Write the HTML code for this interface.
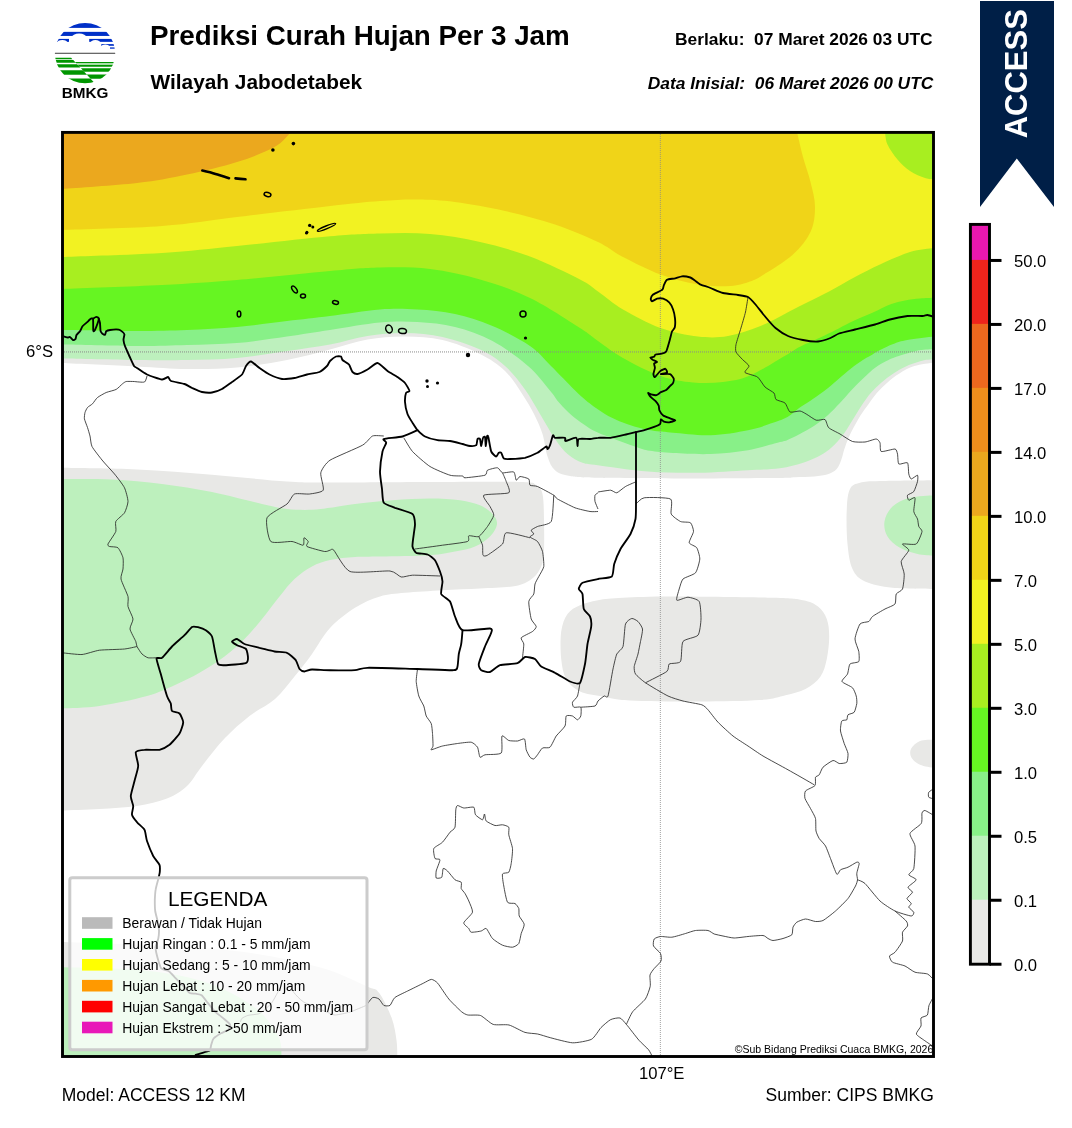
<!DOCTYPE html>
<html><head><meta charset="utf-8"><title>Prediksi Curah Hujan Per 3 Jam</title>
<style>
html,body{margin:0;padding:0;background:#fff;}
body{width:1072px;height:1128px;position:relative;overflow:hidden;font-family:"Liberation Sans",sans-serif;}
svg text{font-family:"Liberation Sans",sans-serif;}
</style></head><body>
<svg width="1072" height="1128" viewBox="0 0 1072 1128" style="position:absolute;left:0;top:0;will-change:transform">
<defs><clipPath id="mc"><rect x="62.5" y="132.4" width="871.0" height="924.1"/></clipPath></defs>
<rect x="0" y="0" width="1072" height="1128" fill="#fff"/>
<g clip-path="url(#mc)">
<path d="M62.0,363.0C74.5,363.6 116.2,365.5 137.0,366.5C157.8,367.5 170.3,368.8 187.0,369.0C203.7,369.2 220.3,369.0 237.0,367.5C253.7,366.0 271.5,363.0 287.0,360.0C302.5,357.0 316.6,352.9 330.0,349.5C343.4,346.1 355.0,341.7 367.5,339.5C380.0,337.3 392.5,336.4 405.0,336.5C417.5,336.6 430.0,337.1 442.5,340.0C455.0,342.9 469.6,348.8 480.0,354.0C490.4,359.2 497.9,364.2 505.0,371.0C512.1,377.8 517.7,387.3 522.5,394.5C527.3,401.7 530.7,407.4 534.0,414.0C537.3,420.6 540.2,426.9 542.5,434.0C544.8,441.1 545.4,450.5 547.5,456.5C549.6,462.5 551.2,467.0 555.0,470.2C558.8,473.5 562.8,474.8 570.0,476.0C577.2,477.2 576.7,477.3 598.0,477.8C619.3,478.2 667.7,478.5 698.0,478.5C728.3,478.5 763.9,478.1 780.0,477.9C796.1,477.7 789.2,477.4 794.9,477.2C800.6,476.9 808.8,476.9 814.3,476.4C819.8,475.9 824.1,475.4 827.8,474.2C831.5,473.0 834.5,471.4 836.7,469.0C838.9,466.6 840.0,463.2 841.2,460.0C842.5,456.8 843.0,453.3 844.2,449.6C845.5,445.9 847.0,441.6 848.7,437.6C850.4,433.6 852.6,429.4 854.6,425.7C856.6,422.0 858.4,418.7 860.6,415.2C862.9,411.7 865.4,408.5 868.1,404.8C870.8,401.1 873.8,396.5 877.0,392.8C880.2,389.1 883.8,385.6 887.5,382.4C891.2,379.2 894.9,376.1 899.4,373.4C903.9,370.7 908.5,367.8 914.3,366.0C920.1,364.2 930.7,363.0 934.0,362.4L933.5,132.4L62.5,132.4Z" fill="#e8e8e6"/>
<path d="M62.0,358.5C74.5,358.8 116.2,359.8 137.0,360.0C157.8,360.2 170.3,360.3 187.0,360.0C203.7,359.7 220.3,359.5 237.0,358.0C253.7,356.5 271.5,353.2 287.0,351.0C302.5,348.8 316.6,347.0 330.0,344.5C343.4,342.0 355.0,337.9 367.5,336.0C380.0,334.1 392.5,332.8 405.0,333.0C417.5,333.2 430.0,334.2 442.5,337.0C455.0,339.8 469.6,344.7 480.0,349.5C490.4,354.3 497.5,359.3 505.0,366.0C512.5,372.7 519.2,381.5 525.0,389.5C530.8,397.5 535.0,405.8 540.0,414.0C545.0,422.2 550.4,432.3 555.0,439.0C559.6,445.7 562.9,450.0 567.5,454.0C572.1,458.0 577.4,460.9 582.5,462.8C587.6,464.6 587.1,463.8 598.0,465.2C608.9,466.7 631.3,470.2 648.0,471.5C664.7,472.8 681.3,473.0 698.0,472.8C714.7,472.5 734.3,471.0 748.0,470.2C761.7,469.5 770.9,469.4 780.0,468.2C789.1,467.0 796.2,464.9 802.4,463.0C808.6,461.1 812.8,459.2 817.3,457.0C821.8,454.8 825.6,452.6 829.3,449.6C833.0,446.6 836.7,442.6 839.7,439.1C842.7,435.6 844.7,432.4 847.2,428.7C849.7,425.0 852.1,420.7 854.6,416.7C857.1,412.7 859.4,408.8 862.1,404.8C864.8,400.8 867.8,396.5 871.0,392.8C874.2,389.1 877.8,385.6 881.5,382.4C885.2,379.2 889.2,376.1 893.4,373.4C897.6,370.7 901.8,368.2 906.9,366.0C912.0,363.8 919.5,361.4 924.0,360.3C928.5,359.2 932.3,359.6 934.0,359.5L933.5,132.4L62.5,132.4Z" fill="#bdf0bd"/>
<path d="M62.0,344.5C74.5,344.8 116.2,345.9 137.0,346.0C157.8,346.1 170.3,345.5 187.0,345.0C203.7,344.5 220.3,344.4 237.0,343.0C253.7,341.6 271.5,338.7 287.0,336.5C302.5,334.3 314.5,332.3 330.0,330.0C345.5,327.7 365.4,323.8 380.0,322.5C394.6,321.2 405.0,321.2 417.5,322.0C430.0,322.8 442.5,323.8 455.0,327.0C467.5,330.2 480.3,334.5 492.5,341.0C504.7,347.5 518.5,357.9 528.0,366.0C537.5,374.1 544.2,383.7 549.5,389.9C554.8,396.1 556.0,399.1 559.7,403.3C563.4,407.5 567.6,411.7 571.6,415.2C575.6,418.7 579.6,421.5 583.6,424.2C587.6,426.9 591.0,429.4 595.5,431.6C600.0,433.8 603.7,435.1 610.4,437.6C617.1,440.1 628.9,444.6 635.5,446.8C642.1,449.0 643.8,449.8 650.0,450.8C656.2,451.8 662.9,452.5 673.0,453.0C683.1,453.5 698.0,454.5 710.5,454.0C723.0,453.5 736.4,452.2 748.0,450.2C759.6,448.3 773.4,443.8 780.0,442.1C786.6,440.4 784.3,441.2 787.5,439.9C790.7,438.6 794.9,436.6 799.4,434.2C803.9,431.8 809.6,428.9 814.3,425.7C819.0,422.5 823.6,418.9 827.8,415.2C832.0,411.5 835.7,407.5 839.7,403.3C843.7,399.1 847.6,394.1 851.6,389.9C855.6,385.7 859.6,381.6 863.6,377.9C867.6,374.2 871.4,370.5 875.5,367.5C879.6,364.5 884.6,361.9 888.5,360.0C892.4,358.1 893.7,357.6 898.8,356.0C903.9,354.4 913.4,351.4 919.3,350.3C925.2,349.2 931.5,349.5 934.0,349.3L933.5,132.4L62.5,132.4Z" fill="#88f088"/>
<path d="M62.0,330.0C74.5,330.2 116.2,331.0 137.0,331.0C157.8,331.0 170.3,330.7 187.0,330.0C203.7,329.3 220.3,328.5 237.0,327.0C253.7,325.5 271.5,322.8 287.0,321.0C302.5,319.2 314.5,317.9 330.0,316.0C345.5,314.1 365.4,310.6 380.0,309.5C394.6,308.4 405.0,308.8 417.5,309.5C430.0,310.2 442.5,311.2 455.0,314.0C467.5,316.8 480.0,320.7 492.5,326.0C505.0,331.3 520.2,339.3 530.0,346.0C539.8,352.7 543.6,358.7 551.0,366.0C558.4,373.3 568.2,383.7 574.6,389.9C581.0,396.1 584.6,399.3 589.6,403.3C594.6,407.3 599.5,410.7 604.5,413.7C609.5,416.7 614.4,419.1 619.4,421.2C624.4,423.3 629.3,424.9 634.3,426.4C639.3,427.9 645.0,429.2 649.3,430.1C653.6,431.0 656.0,431.2 660.0,431.6C664.0,432.0 664.6,432.1 673.0,432.8C681.4,433.4 698.0,435.7 710.5,435.2C723.0,434.8 737.6,432.3 748.0,430.2C758.4,428.2 766.4,425.0 773.0,422.8C779.6,420.5 783.2,419.4 787.5,417.0C791.8,414.6 794.8,411.2 798.5,408.5C802.2,405.8 805.8,403.8 810.0,401.0C814.2,398.2 818.8,395.1 823.5,391.5C828.2,387.9 833.4,383.2 838.0,379.4C842.6,375.6 846.9,371.7 851.0,368.5C855.1,365.3 859.8,362.1 862.9,360.0C866.0,357.9 867.0,357.7 869.9,356.0C872.8,354.3 876.2,352.0 880.1,350.0C884.0,348.0 888.7,345.7 893.2,344.0C897.7,342.3 900.4,341.2 907.2,340.0C914.0,338.8 929.5,337.2 934.0,336.6L933.5,132.4L62.5,132.4Z" fill="#66f522"/>
<path d="M62.0,289.0C78.7,288.3 132.8,286.5 162.0,285.0C191.2,283.5 209.0,282.3 237.0,280.0C265.0,277.7 306.2,273.1 330.0,271.0C353.8,268.9 363.3,267.8 380.0,267.5C396.7,267.2 413.3,267.0 430.0,269.0C446.7,271.0 463.3,274.7 480.0,279.5C496.7,284.3 513.3,289.9 530.0,298.0C546.7,306.1 568.7,320.8 580.0,328.0C591.3,335.2 590.8,336.0 598.0,341.0C605.2,346.0 612.6,352.2 623.0,358.0C633.4,363.8 648.8,371.9 660.5,376.0C672.2,380.1 682.6,381.5 693.0,382.5C703.4,383.5 713.5,383.2 723.0,382.0C732.5,380.8 739.6,379.9 750.0,375.5C760.4,371.1 777.2,360.3 785.5,355.5C793.8,350.7 793.7,349.9 800.0,346.7C806.3,343.4 817.0,339.1 823.5,336.0C830.0,332.9 834.4,330.6 839.2,328.2C844.0,325.8 847.9,323.7 852.2,321.6C856.6,319.5 860.9,317.8 865.3,315.8C869.7,313.9 874.0,311.9 878.4,309.9C882.8,307.9 887.0,305.6 891.4,304.0C895.8,302.4 900.2,301.4 905.0,300.5C909.8,299.6 915.2,298.9 920.0,298.5C924.8,298.1 931.7,297.9 934.0,297.8L933.5,132.4L62.5,132.4Z" fill="#a8ee20"/>
<path d="M62.0,257.0C78.7,256.3 132.8,254.8 162.0,253.0C191.2,251.2 209.0,248.8 237.0,246.0C265.0,243.2 306.2,238.4 330.0,236.3C353.8,234.2 363.3,233.9 380.0,233.5C396.7,233.1 413.3,232.6 430.0,234.0C446.7,235.4 463.3,238.2 480.0,242.0C496.7,245.8 513.3,250.2 530.0,256.5C546.7,262.8 568.7,273.7 580.0,279.5C591.3,285.3 590.8,286.5 598.0,291.5C605.2,296.5 612.6,303.4 623.0,309.5C633.4,315.6 648.0,323.5 660.5,328.0C673.0,332.5 686.8,335.2 698.0,336.5C709.2,337.8 717.6,337.8 728.0,336.0C738.4,334.2 748.8,330.8 760.5,326.0C772.2,321.2 786.4,312.8 798.0,307.0C809.6,301.2 820.5,296.0 830.0,291.0C839.5,286.0 846.7,281.4 855.0,277.0C863.3,272.6 870.8,268.7 880.0,264.5C889.2,260.3 901.0,254.8 910.0,252.0C919.0,249.2 930.0,248.7 934.0,248.0L933.5,132.4L62.5,132.4Z" fill="#f2f222"/>
<path d="M62.0,230.0C78.7,229.3 132.8,228.2 162.0,226.0C191.2,223.8 209.0,220.3 237.0,217.0C265.0,213.7 306.2,208.7 330.0,206.0C353.8,203.3 365.4,202.1 380.0,201.0C394.6,199.9 405.0,199.3 417.5,199.5C430.0,199.7 440.4,200.1 455.0,202.0C469.6,203.9 488.3,207.2 505.0,211.0C521.7,214.8 539.5,219.3 555.0,224.5C570.5,229.7 586.7,236.6 598.0,242.0C609.3,247.4 612.6,251.6 623.0,257.0C633.4,262.4 648.0,269.9 660.5,274.5C673.0,279.1 686.3,282.6 698.0,284.5C709.7,286.4 721.8,286.5 730.5,286.0C739.2,285.5 744.6,283.3 750.0,281.5C755.4,279.7 755.8,279.5 763.0,275.0C770.2,270.5 785.1,261.7 793.0,254.5C800.9,247.3 806.8,239.9 810.5,232.0C814.2,224.1 815.0,215.3 815.0,207.0C815.0,198.7 812.5,190.3 810.5,182.0C808.5,173.7 805.2,165.3 803.0,157.0C800.8,148.7 798.0,136.2 797.0,132.0L62.5,132.4Z" fill="#f0d418"/>
<path d="M62.0,189.0C74.5,188.0 116.2,185.4 137.0,183.0C157.8,180.6 170.3,178.0 187.0,174.5C203.7,171.0 222.4,166.6 237.0,162.0C251.6,157.4 265.5,152.0 274.5,147.0C283.5,142.0 288.2,134.5 291.0,132.0L62.5,132.4Z" fill="#eba81e"/>
<path d="M885.0,132.0C885.4,134.1 885.4,139.9 887.5,144.5C889.6,149.1 893.8,155.1 897.5,159.5C901.2,163.9 905.4,167.9 910.0,171.0C914.6,174.1 921.0,176.6 925.0,178.0C929.0,179.4 932.5,179.2 934.0,179.5L933.5,132.4Z" fill="#a8ee20"/>
<path d="M62.0,467.8C74.5,468.0 112.0,468.3 137.0,469.5C162.0,470.7 187.0,472.8 212.0,474.8C237.0,476.8 267.3,480.2 287.0,481.5C306.7,482.8 306.2,482.4 330.0,482.5C353.8,482.6 398.3,482.1 430.0,482.0C461.7,481.9 502.3,481.5 520.0,482.0C537.7,482.5 532.2,483.0 536.0,485.0C539.8,487.0 541.2,488.2 542.5,494.0C543.8,499.8 543.8,510.0 544.0,520.0C544.2,530.0 544.4,545.8 543.8,554.0C543.1,562.2 542.3,564.6 540.0,569.0C537.7,573.4 534.6,577.3 530.0,580.2C525.4,583.2 520.8,585.1 512.5,586.5C504.2,587.9 491.7,587.9 480.0,588.5C468.3,589.1 455.0,589.5 442.5,590.2C430.0,591.0 415.4,591.7 405.0,592.8C394.6,593.8 388.3,594.0 380.0,596.5C371.7,599.0 363.3,602.5 355.0,607.8C346.7,613.0 337.2,620.3 330.0,628.0C322.8,635.7 317.9,645.9 312.0,654.0C306.1,662.1 300.7,669.0 294.5,676.5C288.3,684.0 282.5,692.4 275.0,699.0C267.5,705.6 257.9,709.4 249.5,716.0C241.1,722.6 232.4,730.2 224.5,738.5C216.6,746.8 208.2,758.1 202.0,766.0C195.8,773.9 192.8,780.6 187.0,786.0C181.2,791.4 175.3,795.2 167.0,798.5C158.7,801.8 148.2,804.2 137.0,806.0C125.8,807.8 112.0,808.2 99.5,809.0C87.0,809.8 68.2,810.2 62.0,810.5Z" fill="#e8e8e6"/>
<path d="M62.0,479.0C70.3,479.1 95.3,478.7 112.0,479.5C128.7,480.3 145.3,481.9 162.0,484.0C178.7,486.1 195.3,488.7 212.0,492.0C228.7,495.3 249.5,501.2 262.0,504.0C274.5,506.8 278.7,508.0 287.0,509.0C295.3,510.0 304.8,510.0 312.0,509.8C319.2,509.5 322.8,508.7 330.0,507.8C337.2,506.8 344.6,505.2 355.0,504.0C365.4,502.8 380.0,501.2 392.5,500.2C405.0,499.3 418.8,498.5 430.0,498.5C441.2,498.5 451.7,499.1 460.0,500.2C468.3,501.4 474.6,503.0 480.0,505.2C485.4,507.5 489.7,510.9 492.5,514.0C495.3,517.1 497.4,520.2 497.0,524.0C496.6,527.8 493.7,532.8 490.0,536.5C486.3,540.2 480.8,544.0 475.0,546.5C469.2,549.0 462.5,550.0 455.0,551.5C447.5,553.0 442.5,554.4 430.0,555.2C417.5,556.1 392.5,556.2 380.0,556.5C367.5,556.8 363.3,556.4 355.0,557.0C346.7,557.6 337.2,558.4 330.0,560.0C322.8,561.6 317.9,563.3 312.0,566.5C306.1,569.7 299.9,574.0 294.5,579.0C289.1,584.0 284.9,589.8 279.5,596.5C274.1,603.2 267.8,611.9 262.0,619.0C256.2,626.1 250.8,632.8 244.5,639.0C238.2,645.2 232.0,650.9 224.5,656.5C217.0,662.1 207.8,668.0 199.5,672.8C191.2,677.5 183.2,681.4 174.5,685.2C165.8,689.1 159.5,692.5 147.0,696.0C134.5,699.5 113.7,703.9 99.5,706.0C85.3,708.1 68.2,708.1 62.0,708.5Z" fill="#bdf0bd"/>
<path d="M598.0,600.2C605.2,599.0 610.5,598.4 623.0,597.8C635.5,597.1 648.0,596.5 673.0,596.5C698.0,596.5 751.3,597.1 773.0,597.8C794.7,598.4 795.5,598.8 803.0,600.2C810.5,601.7 814.0,603.4 818.0,606.5C822.0,609.6 824.9,614.0 826.8,619.0C828.6,624.0 829.2,629.8 829.2,636.5C829.2,643.2 828.2,652.3 826.8,659.0C825.3,665.7 824.0,671.5 820.5,676.5C817.0,681.5 811.3,685.9 805.5,689.0C799.7,692.1 793.1,693.4 785.5,695.2C777.9,697.1 774.2,699.0 760.0,700.0C745.8,701.0 721.7,701.4 700.0,701.5C678.3,701.6 646.2,701.3 630.0,700.5C613.8,699.7 611.3,698.0 603.0,696.5C594.7,695.0 586.1,694.4 580.0,691.5C573.9,688.6 569.4,684.4 566.2,679.0C563.1,673.6 562.1,666.9 561.2,659.0C560.4,651.1 560.2,639.0 561.2,631.5C562.3,624.0 564.4,618.4 567.5,614.0C570.6,609.6 574.9,607.5 580.0,605.2C585.1,603.0 590.8,601.5 598.0,600.2Z" fill="#e8e8e6"/>
<path d="M934.0,480.2C925.0,480.4 892.3,480.6 880.0,481.0C867.7,481.4 865.0,481.4 860.0,482.8C855.0,484.1 852.2,484.6 850.0,489.0C847.8,493.4 847.2,499.8 846.8,509.0C846.3,518.2 846.5,534.0 847.5,544.0C848.5,554.0 849.6,562.8 852.5,569.0C855.4,575.2 858.3,578.4 865.0,581.5C871.7,584.6 881.0,586.5 892.5,587.8C904.0,589.0 927.1,588.8 934.0,589.0Z" fill="#e8e8e6"/>
<path d="M934.0,495.2C930.0,495.7 916.9,495.9 910.0,497.8C903.1,499.6 896.8,502.5 892.5,506.5C888.2,510.5 885.3,516.5 884.5,521.5C883.7,526.5 884.9,532.1 887.5,536.5C890.1,540.9 895.0,544.8 900.0,547.8C905.0,550.7 911.8,552.7 917.5,554.0C923.2,555.3 931.2,555.5 934.0,555.8Z" fill="#bdf0bd"/>
<path d="M934.0,739.8C931.7,740.0 923.8,739.5 920.0,741.0C916.2,742.5 912.7,745.8 911.2,748.5C909.8,751.2 909.8,754.5 911.2,757.2C912.7,760.0 916.2,763.0 920.0,764.8C923.8,766.5 931.7,767.5 934.0,768.0Z" fill="#e8e8e6"/>
<path d="M62.0,942.0C75.8,942.5 115.3,943.4 145.0,945.0C174.7,946.6 210.9,947.8 240.0,951.5C269.1,955.2 298.4,961.5 319.6,967.3C340.8,973.1 357.1,982.2 367.0,986.4C376.9,990.6 374.9,987.4 379.0,992.7C383.1,998.0 388.8,1010.1 391.7,1018.0C394.6,1025.9 395.6,1034.0 396.5,1040.3C397.4,1046.6 397.2,1053.4 397.4,1056.0L62.5,1056.5Z" fill="#e8e8e6"/>
<path d="M62.0,967.3C75.8,967.8 120.6,967.9 145.0,970.5C169.4,973.1 190.1,976.9 208.6,983.2C227.1,989.6 244.4,999.6 256.0,1008.6C267.6,1017.6 274.1,1029.1 278.4,1037.0C282.6,1044.9 281.0,1052.8 281.5,1056.0L62.5,1056.5Z" fill="#bdf0bd"/>
<line x1="62" x2="934" y1="351.95" y2="351.95" stroke="#8a8a8a" stroke-width="1" stroke-dasharray="1,1"/>
<line x1="660.35" x2="660.35" y1="132" y2="1056" stroke="#8a8a8a" stroke-width="1" stroke-dasharray="1,1" stroke-opacity="0.8"/>
<g fill="none" stroke="#222" stroke-width="0.82" stroke-linejoin="round">
<path d="M134.0,381.5C133.2,381.5 127.4,381.3 126.2,381.5C125.1,381.7 123.5,383.0 122.5,383.8C121.5,384.5 117.9,388.5 116.2,389.4C114.6,390.3 108.1,391.7 106.2,392.5C104.4,393.3 98.9,396.4 97.5,397.5C96.1,398.6 93.5,402.8 92.5,403.8C91.5,404.8 88.2,406.6 87.5,407.5C86.8,408.4 85.3,411.4 85.0,412.5C84.7,413.6 84.2,417.2 84.4,418.8C84.7,420.2 86.9,425.8 87.5,427.5C88.1,429.2 89.5,434.1 90.0,436.0C90.5,437.9 90.8,444.1 92.0,446.5C93.2,448.9 99.8,457.2 102.0,460.0C104.2,462.8 112.2,471.2 114.5,474.0C116.8,476.8 123.2,485.0 124.5,487.8C125.8,490.5 128.0,499.0 128.0,501.5C128.0,504.0 125.7,510.8 124.5,512.8C123.3,514.8 116.6,519.6 115.8,521.5C114.9,523.4 116.5,529.2 115.8,531.5C115.0,533.8 108.6,542.5 108.0,544.0C107.4,545.5 108.5,546.1 109.5,546.5C110.5,546.9 116.7,546.6 118.0,547.8C119.3,548.9 122.5,555.6 123.0,557.8C123.5,559.9 123.2,566.9 123.0,569.0C122.8,571.1 120.5,576.2 121.0,579.0C121.5,581.8 127.3,593.8 128.0,596.5C128.7,599.2 127.5,604.2 128.0,606.5C128.5,608.8 132.8,616.8 133.0,619.0C133.2,621.2 129.7,626.8 130.0,629.0C130.3,631.2 135.1,639.8 135.8,641.5C136.4,643.2 136.4,645.2 137.0,646.5C137.6,647.8 140.9,652.9 142.0,654.0C143.1,655.1 146.6,657.4 148.0,657.8C149.4,658.1 155.7,657.8 156.5,657.8"/>
<path d="M134.0,381.5C135.1,381.6 143.2,382.6 144.5,382.0C145.8,381.4 146.8,376.6 147.0,376.0"/>
<path d="M62.0,652.8C64.0,652.9 78.2,654.8 82.0,654.5C85.8,654.2 95.2,650.8 99.5,650.2C103.8,649.7 120.8,649.4 124.5,649.0C128.2,648.6 135.8,646.8 137.0,646.5"/>
<path d="M383.8,436.0C382.6,436.0 374.6,435.1 372.5,436.0C370.4,436.9 366.8,442.8 362.5,445.2C358.2,447.7 334.2,457.5 330.0,460.2C325.8,463.0 321.4,469.8 320.8,472.8C320.1,475.8 324.4,488.1 323.2,490.2C322.1,492.4 312.4,493.6 309.5,494.0C306.6,494.4 296.8,493.0 294.5,494.0C292.2,495.0 289.8,501.6 287.0,504.0C284.2,506.4 268.6,514.0 267.0,517.8C265.4,521.5 268.2,539.1 270.8,541.5C273.2,543.9 288.8,541.1 292.0,541.5C295.2,541.9 302.1,545.6 303.2,545.2C304.4,544.9 303.5,538.1 304.0,537.8C304.5,537.4 307.9,540.6 308.2,541.5C308.6,542.4 305.4,545.5 307.0,546.5C308.6,547.5 322.2,551.1 324.5,551.5C326.8,551.9 329.1,550.4 330.0,550.2C330.9,550.1 331.8,548.1 333.8,550.2C335.8,552.4 344.4,569.4 350.0,571.5C355.6,573.6 384.9,570.5 390.0,571.0C395.1,571.5 399.0,576.6 401.2,577.0C403.5,577.4 408.6,575.4 412.5,575.2C416.4,575.1 437.2,575.9 440.0,576.0"/>
<path d="M403.8,437.8C404.6,439.1 409.9,448.6 412.5,451.5C415.1,454.4 426.2,464.1 430.0,466.5C433.8,468.9 446.8,474.3 450.0,475.2C453.2,476.2 461.0,475.8 462.5,476.0C464.0,476.2 462.8,477.8 465.0,477.8C467.2,477.7 482.8,476.0 485.0,475.2C487.2,474.5 486.2,471.0 487.5,470.2C488.8,469.5 496.0,467.5 497.5,467.8C499.0,468.0 500.9,472.3 502.5,472.8C504.1,473.2 512.4,471.2 513.8,472.0C515.1,472.8 515.6,479.8 516.2,480.2C516.9,480.7 518.8,476.6 520.0,476.5C521.2,476.4 527.8,478.1 528.8,479.0C529.8,479.9 529.1,484.5 530.0,485.2C530.9,486.0 535.1,485.5 537.5,486.5C539.9,487.5 551.8,494.0 553.8,495.2C555.8,496.5 555.4,497.8 557.5,499.0C559.6,500.2 571.8,506.5 575.0,507.8C578.2,509.0 587.7,511.1 590.0,511.5C592.3,511.9 597.2,511.5 598.0,511.5"/>
<path d="M502.5,472.8C502.9,473.6 505.6,479.5 506.2,481.5C506.9,483.5 511.0,491.4 508.8,492.8C506.5,494.1 485.6,493.9 483.8,495.2C481.9,496.6 489.0,504.5 490.0,506.5C491.0,508.5 494.0,513.2 493.8,515.2C493.5,517.2 489.0,524.4 487.5,526.5C486.0,528.6 480.6,535.6 478.8,536.5C476.9,537.4 469.9,535.2 468.8,535.8C467.6,536.2 470.1,540.5 467.5,541.5C464.9,542.5 447.8,544.5 442.5,545.2C437.2,546.0 417.8,548.6 415.0,549.0"/>
<path d="M478.8,536.5C479.1,537.4 482.1,543.4 482.5,545.2C482.9,547.1 482.5,554.2 483.0,555.2C483.5,556.2 485.6,556.4 487.5,555.2C489.4,554.1 500.6,546.2 502.5,544.0C504.4,541.8 503.5,533.4 506.2,532.8C509.0,532.1 527.6,537.2 530.0,537.8"/>
<path d="M553.8,495.2C553.5,497.9 552.9,518.4 551.2,521.5C549.6,524.6 539.5,525.6 537.5,526.5C535.5,527.4 531.6,529.5 531.2,530.2C530.9,531.0 533.9,533.3 533.8,534.0C533.6,534.7 529.6,536.2 530.0,537.0C530.4,537.8 536.2,540.0 537.5,541.5C538.8,543.0 541.9,549.0 542.5,551.5C543.1,554.0 544.1,564.0 543.8,566.5C543.4,569.0 539.6,574.8 538.8,576.5C537.9,578.2 535.5,582.2 535.0,584.0C534.5,585.8 534.4,592.2 533.8,594.0C533.1,595.8 529.0,599.0 528.8,601.5C528.5,604.0 530.5,616.5 531.2,619.0C532.0,621.5 536.1,625.2 536.2,626.5C536.4,627.8 534.0,630.4 532.5,631.5C531.0,632.6 522.1,636.5 521.2,637.8C520.4,639.0 523.6,642.0 523.8,644.0C523.9,646.0 522.6,656.4 522.5,657.8"/>
<path d="M417.5,669.0C417.4,670.2 416.1,678.8 416.2,681.5C416.4,684.2 418.0,693.5 418.8,696.0C419.5,698.5 423.0,704.0 423.8,706.0C424.5,708.0 425.5,714.2 426.2,716.0C427.0,717.8 430.6,721.8 431.2,723.5C431.9,725.2 432.3,731.2 432.5,733.5C432.7,735.8 433.1,744.4 433.0,746.0C432.9,747.6 430.3,749.8 431.2,749.8C432.2,749.8 439.9,746.6 442.5,746.0C445.1,745.4 454.6,743.9 457.5,743.5C460.4,743.1 469.2,741.9 471.2,742.2C473.2,742.6 476.6,745.8 477.5,747.2C478.4,748.8 479.2,756.5 480.0,757.2C480.8,758.0 482.9,755.2 485.0,754.8C487.1,754.3 499.6,754.9 501.2,753.0C502.9,751.1 501.2,737.2 502.0,736.0C502.8,734.8 507.2,740.0 508.8,740.5C510.3,741.0 515.9,741.1 517.5,741.0C519.1,740.9 523.6,738.1 524.5,739.0C525.4,739.9 525.7,747.9 526.2,749.8C526.8,751.6 529.2,756.3 530.0,757.2C530.8,758.2 533.0,759.2 533.8,759.0C534.5,758.8 536.6,755.9 537.5,754.8C538.4,753.6 541.2,748.8 542.5,748.0C543.8,747.2 548.6,748.5 550.0,747.2C551.4,746.0 554.8,738.1 556.2,736.0C557.8,733.9 564.0,728.0 565.0,726.0C566.0,724.0 565.5,717.0 566.2,716.0C567.0,715.0 571.4,715.6 572.5,716.0C573.6,716.4 576.7,719.8 577.5,719.8C578.3,719.8 580.4,717.2 580.8,716.0C581.1,714.8 581.5,708.1 580.8,707.2C580.0,706.4 574.6,707.8 573.8,707.2C572.9,706.8 572.1,703.4 572.5,702.2C572.9,701.1 576.8,698.0 577.5,696.0C578.2,694.0 579.8,684.1 580.0,682.8"/>
<path d="M580.8,707.2C582.2,707.1 593.3,706.6 595.0,706.0C596.7,705.4 597.1,702.0 598.0,701.0C598.9,700.0 603.2,696.5 604.2,696.0C605.2,695.5 607.1,698.7 608.0,696.0C608.9,693.3 612.1,673.2 613.0,669.0C613.9,664.8 615.8,656.2 616.8,654.0C617.8,651.8 622.1,649.5 623.0,646.5C623.9,643.5 624.6,626.8 625.5,624.0C626.4,621.2 630.5,618.8 631.8,618.5C633.0,618.2 636.9,620.5 638.0,621.5C639.1,622.5 642.2,627.0 642.5,629.0C642.8,631.0 641.0,639.0 640.5,641.5C640.0,644.0 638.6,651.5 638.0,654.0C637.4,656.5 634.5,664.5 634.2,666.5C634.0,668.5 634.4,672.4 635.5,674.0C636.6,675.6 642.2,680.5 645.5,682.8C648.8,685.0 664.2,694.2 668.0,696.0C671.8,697.8 679.6,700.1 683.0,701.0C686.4,701.9 699.2,703.9 701.8,704.8C704.2,705.6 706.4,708.0 708.0,709.8C709.6,711.5 715.5,719.6 718.0,722.2C720.5,724.9 730.0,733.6 733.0,736.0C736.0,738.4 745.0,744.0 748.0,746.0C751.0,748.0 759.0,753.6 763.0,756.0C767.0,758.4 782.9,766.9 788.0,769.8C793.1,772.6 811.6,783.2 814.2,784.8"/>
<path d="M598.0,492.8C597.7,493.0 595.3,494.4 595.0,495.2C594.7,496.1 594.7,500.1 595.0,501.5C595.3,502.9 597.7,508.2 598.0,509.0"/>
<path d="M598.0,492.0C599.2,491.8 608.6,490.2 610.5,490.2C612.4,490.3 615.2,493.1 616.8,492.8C618.2,492.4 623.6,487.6 625.5,486.5C627.4,485.4 634.5,482.4 635.5,482.0"/>
<path d="M636.0,504.0C636.8,503.4 640.8,498.2 644.2,497.8C647.7,497.2 667.8,497.4 670.5,499.0C673.2,500.6 670.2,511.8 671.2,514.0C672.2,516.2 678.6,520.6 680.5,521.5C682.4,522.4 689.2,521.8 690.5,522.8C691.8,523.8 693.6,529.5 693.5,531.5C693.4,533.5 688.9,541.1 689.2,542.8C689.6,544.4 695.7,546.1 696.8,547.8C697.8,549.4 699.9,556.5 699.8,559.0C699.6,561.5 697.2,570.8 695.5,572.8C693.8,574.8 684.6,577.4 683.0,579.0C681.4,580.6 679.9,586.9 679.2,589.0C678.6,591.1 675.9,599.4 676.8,600.2C677.6,601.1 685.8,597.1 688.0,597.2C690.2,597.4 698.0,599.3 699.2,601.5C700.5,603.7 701.1,615.6 701.0,619.0C700.9,622.4 699.8,633.0 698.0,635.2C696.2,637.5 684.8,638.9 683.0,641.5C681.2,644.1 681.9,659.2 680.5,661.5C679.1,663.8 670.6,663.0 669.2,664.0C667.9,665.0 669.1,669.6 666.8,671.5C664.4,673.4 647.6,681.6 645.5,682.8"/>
<path d="M748.0,297.0C747.8,298.5 746.2,308.8 745.5,312.0C744.8,315.2 741.5,326.2 740.5,329.5C739.5,332.8 736.5,342.2 736.0,344.5C735.5,346.8 735.4,350.5 736.0,352.0C736.6,353.5 741.2,358.1 742.5,359.5C743.8,360.9 748.8,364.7 749.0,366.0C749.2,367.3 744.1,371.4 745.0,372.5C745.9,373.6 755.5,375.6 757.5,377.0C759.5,378.4 763.4,385.4 765.0,387.0C766.6,388.6 772.9,391.8 774.0,393.0C775.1,394.2 774.9,398.5 776.0,399.5C777.1,400.5 783.6,401.8 785.0,403.0C786.4,404.2 788.5,411.2 790.0,412.0C791.5,412.8 798.4,410.8 800.0,411.0C801.6,411.2 804.6,413.1 806.2,414.0C807.9,414.9 814.4,419.7 816.2,420.2C818.1,420.8 823.8,418.8 825.0,419.5C826.2,420.2 827.2,426.3 828.8,427.8C830.2,429.2 837.6,432.6 840.0,434.0C842.4,435.4 850.0,440.7 852.5,441.5C855.0,442.3 862.6,442.2 865.0,442.0C867.4,441.8 874.8,438.9 876.2,439.0C877.8,439.1 879.5,441.5 880.0,442.8C880.5,444.0 879.8,450.9 881.2,451.5C882.8,452.1 893.4,448.8 895.0,449.0C896.6,449.2 897.1,452.5 897.5,454.0C897.9,455.5 897.8,463.1 898.8,464.0C899.8,464.9 906.5,461.8 907.5,462.8C908.5,463.8 908.4,472.4 908.8,474.0C909.1,475.6 910.4,478.9 911.2,479.0C912.1,479.1 916.9,475.0 917.5,475.2C918.1,475.5 917.9,479.9 917.5,481.5C917.1,483.1 914.8,490.1 913.8,491.5C912.8,492.9 908.0,494.4 907.5,495.2C907.0,496.1 908.0,500.0 908.8,500.2C909.5,500.5 914.5,496.6 915.0,497.8C915.5,498.9 913.5,509.4 913.8,511.5C914.0,513.6 917.0,517.5 917.5,519.0C918.0,520.5 918.3,525.2 918.8,526.5C919.2,527.8 922.2,529.8 922.0,531.5C921.8,533.2 918.2,542.8 916.2,544.0C914.3,545.2 903.2,543.4 902.5,544.0C901.8,544.6 908.9,548.5 908.8,550.2C908.6,552.0 901.7,559.1 901.2,561.5C900.8,563.9 904.1,571.2 904.2,574.0C904.4,576.8 903.3,587.0 902.5,589.0C901.7,591.0 897.0,592.5 896.2,594.0C895.5,595.5 896.1,602.5 895.0,604.0C893.9,605.5 887.2,607.8 885.0,609.0C882.8,610.2 874.1,615.2 872.5,616.5C870.9,617.8 870.0,620.8 868.8,621.5C867.5,622.2 861.4,622.2 860.0,624.0C858.6,625.8 855.1,636.2 855.0,639.0C854.9,641.8 858.4,649.2 858.8,651.5C859.1,653.8 859.6,660.2 858.8,661.5C857.9,662.8 851.1,662.8 850.0,664.0C848.9,665.2 848.3,672.2 847.5,674.0C846.7,675.8 841.5,680.1 842.0,681.5C842.5,682.9 851.1,686.3 852.5,687.8C853.9,689.2 855.8,694.4 856.2,696.0C856.7,697.6 857.0,701.9 856.8,703.5C856.5,705.1 855.1,711.1 854.2,712.2C853.4,713.4 848.8,714.0 848.0,714.8C847.2,715.5 847.4,719.1 846.8,719.8C846.1,720.4 842.4,719.9 841.8,721.0C841.1,722.1 840.2,728.8 840.5,731.0C840.8,733.2 843.5,741.2 844.2,743.5C845.0,745.8 847.8,751.6 848.0,753.5C848.2,755.4 847.6,761.2 846.8,762.2C845.9,763.2 840.6,763.7 839.2,763.5C837.9,763.3 834.6,760.1 833.0,760.5C831.4,760.9 824.4,765.8 823.0,767.2C821.6,768.7 820.0,773.8 819.2,774.8C818.5,775.8 815.9,776.2 815.5,777.2C815.1,778.3 816.0,784.1 815.0,785.5C814.0,786.9 806.5,789.7 805.5,791.0C804.5,792.3 804.5,796.8 805.0,798.5C805.5,800.2 809.5,806.5 810.5,808.5C811.5,810.5 815.0,816.2 815.5,818.5C816.0,820.8 815.6,829.0 816.0,831.0C816.4,833.0 818.3,837.0 819.2,838.5C820.2,840.0 824.4,844.0 825.5,846.0C826.6,848.0 829.4,855.7 830.5,858.5C831.6,861.3 835.8,873.1 836.8,874.2C837.8,875.4 839.4,870.5 840.5,869.8C841.6,869.0 846.4,868.0 848.0,867.2C849.6,866.5 855.6,862.6 856.8,862.2C857.9,861.9 859.2,862.4 859.2,863.5C859.2,864.6 856.9,871.9 856.8,873.5C856.6,875.1 857.6,878.5 857.5,879.8C857.4,881.0 856.5,884.1 855.5,886.0C854.5,887.9 850.0,896.0 848.0,898.5C846.0,901.0 838.0,908.8 835.5,911.0C833.0,913.2 825.0,919.5 823.0,920.5C821.0,921.5 817.2,921.6 815.5,921.5C813.8,921.4 807.4,918.9 805.5,919.0C803.6,919.1 798.0,921.4 796.8,922.2C795.5,923.1 793.5,926.0 793.0,927.2C792.5,928.5 792.8,933.6 791.8,934.8C790.8,935.9 784.9,937.9 783.0,938.5C781.1,939.1 774.5,940.5 773.0,940.5C771.5,940.5 769.0,939.0 768.0,938.5C767.0,938.0 765.0,935.7 763.0,935.5C761.0,935.3 750.9,936.2 748.0,936.5C745.1,936.8 736.8,938.0 734.2,938.0C731.8,938.0 725.0,936.4 723.0,936.0C721.0,935.6 715.8,934.5 714.2,934.0C712.8,933.5 709.9,930.9 708.0,930.5C706.1,930.1 697.8,930.2 695.5,930.5C693.2,930.8 687.9,932.8 685.5,933.5C683.1,934.2 674.2,937.0 671.8,937.2C669.2,937.5 662.2,936.3 660.5,936.5C658.8,936.7 655.0,938.0 654.2,939.0C653.5,940.0 652.9,944.5 653.5,946.0C654.1,947.5 659.8,952.0 660.5,953.5C661.2,955.0 661.6,959.5 661.0,961.0C660.4,962.5 655.4,967.1 654.2,968.5C653.1,969.9 650.4,973.2 650.0,975.0C649.6,976.8 650.7,984.0 650.2,986.4C649.7,988.8 647.1,996.5 645.4,999.0C643.6,1001.5 634.6,1009.2 632.7,1011.7C630.8,1014.2 627.0,1023.1 626.4,1024.4"/>
<path d="M857.5,879.8C858.2,880.1 862.8,881.4 865.0,883.5C867.2,885.6 877.0,898.2 880.0,901.0C883.0,903.8 891.9,909.5 895.0,911.0C898.1,912.5 909.4,915.9 911.2,916.0C913.1,916.1 914.0,913.1 913.8,912.2C913.5,911.4 909.0,908.1 908.8,907.2C908.5,906.4 911.4,904.4 911.2,903.5C911.1,902.6 906.9,899.6 907.0,898.5C907.1,897.4 912.4,893.4 912.5,892.2C912.6,891.1 907.6,888.5 908.0,887.2C908.4,886.0 916.2,881.0 916.2,879.8C916.3,878.5 909.0,875.9 908.8,874.8C908.5,873.6 913.1,871.4 913.8,868.5C914.4,865.6 915.4,849.5 915.0,846.0C914.6,842.5 909.4,835.8 910.0,833.5C910.6,831.2 920.0,825.5 921.2,823.5C922.5,821.5 921.6,814.3 922.0,813.0C922.4,811.7 923.8,810.2 925.0,810.5C926.2,810.8 933.1,815.0 934.0,815.5"/>
<path d="M895.0,911.0C896.1,912.0 905.0,919.5 906.2,921.0C907.5,922.5 907.9,924.9 907.5,926.0C907.1,927.1 903.0,930.8 902.5,932.2C902.0,933.8 903.2,939.0 902.5,941.0C901.8,943.0 896.3,950.8 895.0,952.2C893.7,953.8 889.8,955.0 889.5,956.0C889.2,957.0 891.0,961.2 892.5,962.2C894.0,963.2 902.8,965.0 905.0,966.0C907.2,967.0 912.8,971.5 915.0,972.2C917.2,973.0 925.6,973.2 927.5,974.0C929.4,974.8 933.4,979.4 934.0,980.0"/>
<path d="M934.0,788.5C933.5,788.9 929.3,791.4 928.8,792.2C928.2,793.1 928.2,796.6 928.8,797.2C929.3,797.9 933.5,798.8 934.0,799.0"/>
<path d="M934.0,996.0C933.5,996.9 929.7,1003.5 929.0,1005.4C928.3,1007.3 928.2,1013.7 927.4,1015.0C926.6,1016.3 921.6,1016.9 921.0,1018.0C920.4,1019.1 921.5,1024.4 921.0,1026.0C920.5,1027.6 916.0,1032.6 916.3,1034.0C916.6,1035.4 922.4,1039.0 924.2,1040.3C926.0,1041.6 933.0,1046.3 934.0,1047.0"/>
<path d="M366.3,1005.4C366.9,1004.6 371.4,998.1 372.7,997.5C374.0,996.9 377.9,998.2 379.0,999.0C380.1,999.8 382.7,1004.8 383.8,1005.4C384.9,1006.0 388.9,1006.2 390.0,1005.4C391.1,1004.6 393.1,998.9 394.9,997.5C396.7,996.1 404.8,992.4 407.6,991.0C410.5,989.6 421.0,984.4 423.4,983.2C425.8,982.0 430.0,979.4 431.4,979.4C432.8,979.4 436.0,981.2 437.7,983.2C439.4,985.2 446.4,996.1 448.8,999.0C451.2,1001.9 459.6,1010.1 461.5,1011.7C463.4,1013.3 465.9,1014.6 467.8,1015.0C469.7,1015.4 478.0,1014.6 480.5,1015.5C483.0,1016.4 490.3,1023.5 493.2,1024.4C496.1,1025.4 505.8,1024.2 509.0,1025.0C512.2,1025.8 522.1,1031.5 525.0,1032.4C527.9,1033.3 535.1,1033.5 537.6,1034.0C540.1,1034.5 546.8,1036.8 550.3,1037.7C553.8,1038.6 568.4,1042.6 572.5,1042.8C576.6,1043.0 588.6,1040.8 591.5,1039.3C594.4,1037.8 599.1,1029.6 601.0,1027.6C602.9,1025.6 608.6,1020.7 610.5,1019.7C612.4,1018.7 618.4,1017.5 620.0,1018.0C621.6,1018.5 624.5,1022.2 626.4,1024.4C628.3,1026.6 636.8,1037.8 639.0,1040.3C641.2,1042.8 647.3,1048.2 648.6,1049.8C649.9,1051.4 651.7,1055.4 652.0,1056.0"/>
<path d="M366.3,1005.4C364.7,1006.1 353.1,1011.0 350.0,1012.0C346.9,1013.0 337.5,1014.9 335.4,1015.0C333.3,1015.1 332.2,1014.3 329.0,1013.0C325.8,1011.7 307.2,1004.0 303.7,1002.0C300.2,1000.0 295.4,994.4 294.0,992.7C292.6,991.0 290.4,985.8 290.0,985.0"/>
<path d="M240.4,1022.0C240.6,1021.6 241.2,1019.1 241.9,1018.4C242.7,1017.7 246.2,1015.9 247.9,1015.4C249.6,1014.9 256.8,1014.4 258.4,1013.9C260.0,1013.4 263.0,1011.1 264.3,1010.0C265.6,1008.9 270.4,1004.5 271.8,1002.7C273.2,1000.9 277.0,993.7 277.8,992.2C278.6,990.7 279.8,988.4 280.0,988.0"/>
<path d="M457.5,805.5C458.3,805.3 462.1,807.8 463.8,808.0C465.4,808.2 472.6,806.6 473.8,807.2C474.9,807.9 474.6,813.5 475.5,814.8C476.4,816.0 481.6,819.8 482.5,819.8C483.4,819.7 484.1,813.9 484.5,814.0C484.9,814.1 485.2,819.9 486.2,821.0C487.3,822.1 493.4,825.1 495.0,825.5C496.6,825.9 501.1,824.6 502.5,824.8C503.9,824.9 508.1,826.2 508.8,827.2C509.4,828.2 508.4,832.6 508.8,834.8C509.1,836.9 512.2,845.6 512.5,848.5C512.8,851.4 511.6,861.1 511.2,863.5C510.9,865.9 509.6,871.2 508.8,872.2C507.9,873.3 503.0,872.6 502.5,874.0C502.0,875.4 503.2,883.2 503.8,886.0C504.2,888.8 506.4,900.5 507.5,902.2C508.6,904.0 513.9,902.9 515.0,903.5C516.1,904.1 518.3,907.2 518.8,908.5C519.2,909.8 518.7,914.4 519.2,916.0C519.8,917.6 524.0,922.5 524.2,924.2C524.5,926.0 521.8,931.6 521.2,933.5C520.7,935.4 519.6,942.1 518.8,943.5C517.9,944.9 514.1,947.1 512.5,947.2C510.9,947.4 504.5,946.1 502.5,945.2C500.5,944.4 494.1,940.2 492.5,938.5C490.9,936.8 487.4,929.2 486.2,928.5C485.1,927.8 482.8,930.6 481.2,931.0C479.8,931.4 472.5,932.5 471.2,932.2C470.0,932.0 469.5,929.5 468.8,928.5C468.0,927.5 463.4,924.4 463.8,922.8C464.1,921.1 472.0,914.4 472.5,912.2C473.0,910.1 469.5,902.9 468.8,901.0C468.0,899.1 465.8,894.8 465.0,893.5C464.2,892.2 461.6,889.6 461.2,888.5C460.9,887.4 461.9,883.1 461.2,882.2C460.6,881.4 456.4,880.9 455.0,879.8C453.6,878.6 448.7,872.1 447.5,871.0C446.3,869.9 443.8,867.9 443.2,868.5C442.7,869.1 442.4,876.3 441.8,877.2C441.1,878.2 436.8,878.6 436.2,878.0C435.7,877.4 435.9,872.8 436.2,871.0C436.6,869.2 440.1,861.0 440.0,859.8C439.9,858.5 435.6,859.6 435.0,858.5C434.4,857.4 433.0,850.1 433.8,848.5C434.5,846.9 440.9,843.9 442.5,842.2C444.1,840.6 448.8,833.8 450.0,832.2C451.2,830.8 454.4,829.5 455.0,827.2C455.6,825.0 455.5,811.9 455.8,809.8C456.0,807.6 456.7,805.7 457.5,805.5Z"/>
</g>
<g fill="none" stroke="#000" stroke-width="1.85" stroke-linejoin="round" stroke-linecap="round">
<path d="M62.0,336.0C62.6,336.1 67.2,337.4 68.0,337.5C68.8,337.6 69.5,336.8 70.0,337.0C70.5,337.2 72.4,339.8 73.0,340.0C73.6,340.2 75.2,339.2 75.6,338.8C75.9,338.2 76.1,335.8 76.5,335.0C76.9,334.2 79.4,332.1 80.0,331.2C80.6,330.4 81.8,327.2 82.5,326.2C83.2,325.3 86.8,322.6 87.5,321.9C88.2,321.2 89.5,319.7 90.0,319.4C90.5,319.1 92.7,317.6 93.0,318.8C93.3,319.9 93.1,329.5 93.3,330.6C93.5,331.7 94.5,331.2 95.0,330.0C95.5,328.8 98.6,320.1 98.8,318.8C98.9,317.4 96.8,316.9 96.2,316.9C95.7,316.9 93.8,318.3 93.5,318.5"/>
<path d="M98.8,318.8C98.9,319.2 99.8,321.8 100.0,323.0C100.2,324.2 100.3,330.2 100.6,331.2C100.8,332.3 102.1,333.4 102.5,333.8C102.9,334.1 104.6,335.0 105.0,334.8C105.4,334.5 105.8,331.7 106.2,331.2C106.8,330.8 108.8,330.2 110.0,330.0C111.2,329.8 117.5,329.4 118.8,329.6C120.0,329.8 121.9,331.4 122.5,331.9C123.1,332.4 124.3,333.6 124.4,334.4C124.5,335.2 123.4,338.8 123.5,340.0C123.6,341.2 124.3,344.5 125.0,346.2C125.7,348.0 129.1,355.5 130.0,357.5C130.9,359.5 133.3,364.9 134.0,366.0C134.7,367.1 135.7,367.1 137.0,368.0C138.3,368.9 144.5,373.4 147.0,374.5C149.5,375.6 159.9,379.2 162.0,379.5C164.1,379.8 167.1,376.9 168.0,377.0C168.9,377.1 169.3,380.3 171.0,381.0C172.7,381.7 182.4,383.3 184.5,384.0C186.6,384.7 190.2,387.2 192.0,388.0C193.8,388.8 200.0,391.6 202.0,392.0C204.0,392.4 210.0,392.8 212.0,392.5C214.0,392.2 220.0,390.1 222.0,389.0C224.0,387.9 230.0,383.4 232.0,382.0C234.0,380.6 240.6,376.1 242.0,374.5C243.4,372.9 245.1,367.3 246.0,366.0C246.9,364.7 249.7,361.3 251.0,361.5C252.3,361.7 257.6,366.7 259.5,368.0C261.4,369.3 267.2,373.4 269.5,374.5C271.8,375.6 279.5,378.6 282.0,379.0C284.5,379.4 292.0,378.4 294.5,378.0C297.0,377.6 304.5,375.1 307.0,374.5C309.5,373.9 317.5,372.9 319.5,372.0C321.5,371.1 325.9,367.1 327.0,366.0C328.1,364.9 329.1,361.9 330.0,361.0C330.9,360.1 334.9,356.9 336.0,356.5C337.1,356.1 340.4,356.1 341.0,356.5C341.6,356.9 341.7,359.2 342.5,360.0C343.3,360.8 348.0,363.3 349.0,364.5C350.0,365.7 351.6,371.1 352.5,372.0C353.4,372.9 356.0,374.2 357.5,374.0C359.0,373.8 365.5,370.6 367.5,369.5C369.5,368.4 375.5,362.9 377.5,363.0C379.5,363.1 385.5,369.6 387.5,371.0C389.5,372.4 395.8,375.8 397.5,377.0C399.2,378.2 403.8,381.6 405.0,383.0C406.2,384.4 409.4,390.0 409.5,391.0C409.6,392.0 406.4,391.9 406.0,393.0C405.6,394.1 404.9,399.9 405.0,402.0C405.1,404.1 406.8,411.9 407.5,414.0C408.2,416.1 411.5,421.1 412.5,422.8C413.5,424.4 416.2,428.9 417.5,430.2C418.8,431.6 423.0,435.5 425.0,436.5C427.0,437.5 435.0,439.8 437.5,440.2C440.0,440.7 447.5,440.6 450.0,441.0C452.5,441.4 460.5,443.5 462.5,444.0C464.5,444.5 468.6,445.9 470.0,446.0C471.4,446.1 475.5,445.9 476.2,445.2C477.0,444.6 477.1,439.6 477.5,439.0C477.9,438.4 479.6,438.3 480.0,439.0C480.4,439.7 480.9,446.1 481.2,446.0C481.6,445.9 482.6,438.6 483.0,437.8C483.4,436.9 484.7,436.2 485.0,437.0C485.3,437.8 485.6,446.1 485.8,446.0C485.9,445.9 486.8,437.4 487.0,436.5C487.2,435.6 487.8,435.0 488.2,436.5C488.7,438.0 490.4,449.5 491.2,451.5C492.1,453.5 495.5,456.4 496.2,456.5C497.0,456.6 498.2,453.1 498.8,452.8C499.2,452.4 500.8,452.2 501.2,452.8C501.8,453.3 502.9,457.9 503.8,458.5C504.6,459.1 507.9,459.1 510.0,459.0C512.1,458.9 522.2,458.4 525.0,457.8C527.8,457.1 535.4,453.9 537.5,452.8C539.6,451.6 545.2,446.9 546.2,446.5C547.2,446.1 547.1,449.1 547.5,449.0C547.9,448.9 549.5,446.6 550.0,445.2C550.5,443.9 552.5,436.0 553.0,435.2C553.5,434.5 553.8,437.5 555.0,437.8C556.2,438.0 564.0,437.4 565.0,437.8C566.0,438.1 564.4,441.0 565.5,441.0C566.6,441.0 575.0,437.2 576.2,437.8C577.5,438.2 577.2,445.9 577.5,446.0C577.8,446.1 577.5,439.7 578.8,439.0C580.0,438.3 588.1,439.1 590.0,439.0C591.9,438.9 596.0,437.9 598.0,437.8C600.0,437.6 608.0,438.0 610.5,437.8C613.0,437.5 620.5,435.8 623.0,435.2C625.5,434.7 633.8,432.6 636.0,432.1C638.2,431.6 643.3,430.4 645.1,429.9C646.9,429.4 652.6,427.5 654.1,426.9C655.6,426.3 659.5,424.6 660.2,423.8C660.9,423.0 660.5,419.5 660.9,419.3C661.3,419.1 663.1,421.3 663.9,421.6C664.7,421.9 668.1,422.4 669.2,422.3C670.3,422.2 675.1,420.9 675.2,420.5C675.4,420.1 671.9,419.1 670.7,418.6C669.5,418.1 664.3,416.3 663.2,415.5C662.1,414.7 659.9,411.3 659.4,410.3C658.9,409.3 659.1,406.6 658.7,405.7C658.3,404.8 656.4,402.1 655.6,401.2C654.8,400.3 651.1,397.5 650.4,396.7C649.6,395.9 648.0,393.1 648.1,392.9C648.2,392.7 650.3,394.2 651.1,394.4C651.9,394.6 655.4,395.4 656.4,395.2C657.4,395.0 659.9,392.7 660.9,392.2C661.9,391.7 665.3,390.5 666.2,389.9C667.1,389.3 669.3,386.8 670.0,386.1C670.7,385.4 672.6,383.9 673.0,383.1C673.4,382.4 674.0,379.5 673.7,378.6C673.4,377.7 671.3,374.6 670.0,374.1C668.7,373.7 661.2,374.2 660.9,374.1C660.6,374.0 666.5,373.1 667.0,372.6C667.5,372.1 666.1,368.9 665.4,368.8C664.7,368.7 661.2,370.3 660.2,371.1C659.2,371.9 655.6,376.8 654.9,377.1C654.2,377.4 653.4,375.0 653.4,374.1C653.4,373.2 654.8,369.1 654.9,368.0C655.0,366.9 653.9,364.1 654.1,363.5C654.3,362.9 657.2,362.4 657.1,362.0C657.0,361.6 653.3,360.1 652.6,359.7C651.9,359.2 650.2,357.8 650.4,357.5C650.5,357.2 653.6,357.0 654.1,356.7C654.6,356.4 654.8,354.8 655.6,354.5C656.4,354.2 660.6,354.0 661.7,353.7C662.8,353.4 665.4,352.7 666.2,351.4C667.0,350.1 668.9,342.9 669.5,340.9C670.1,338.9 671.4,333.2 671.9,331.8C672.4,330.4 674.5,328.7 674.8,327.3C675.1,325.9 675.2,320.1 675.0,318.3C674.8,316.5 673.6,310.8 673.0,309.2C672.4,307.6 670.2,303.4 669.2,302.4C668.2,301.3 664.4,299.1 663.2,298.7C662.0,298.3 658.2,298.4 657.1,298.7C656.0,299.0 652.5,301.4 651.9,301.4C651.3,301.4 650.7,299.3 650.8,298.7C650.9,298.1 651.4,295.8 652.6,294.9C653.8,294.0 661.3,290.6 662.4,289.6C663.5,288.6 663.4,286.1 663.9,285.1C664.4,284.1 665.9,280.5 667.0,279.8C668.1,279.1 673.7,278.7 675.2,278.3C676.7,277.9 680.5,276.4 682.0,276.3C683.5,276.2 689.0,277.1 690.3,277.5C691.6,277.9 693.9,279.9 694.9,280.6C695.9,281.3 698.4,283.6 700.0,284.3C701.6,285.0 708.2,287.1 710.5,288.0C712.8,288.9 720.2,292.3 723.0,293.0C725.8,293.7 735.5,294.6 738.0,295.0C740.5,295.4 746.2,296.1 748.0,297.0C749.8,297.9 753.8,302.5 755.5,304.5C757.2,306.5 763.5,314.6 765.5,317.0C767.5,319.4 773.2,326.1 775.5,328.0C777.8,329.9 785.2,334.8 788.0,336.0C790.8,337.2 800.0,339.4 803.0,340.0C806.0,340.6 815.2,341.7 818.0,341.5C820.8,341.3 828.4,338.8 830.5,338.0C832.6,337.2 836.5,334.4 839.0,333.5C841.5,332.6 851.4,330.4 855.0,329.5C858.6,328.6 871.5,325.5 875.0,324.5C878.5,323.5 886.8,320.4 890.0,319.5C893.2,318.6 904.2,316.4 907.5,316.0C910.8,315.6 920.5,316.1 922.5,316.0C924.5,315.9 926.4,314.9 927.5,315.0C928.6,315.1 933.4,316.8 934.0,317.0"/>
<path d="M417.5,430.2C416.0,430.9 405.9,435.6 402.5,436.5C399.1,437.4 385.4,438.4 383.8,439.0C382.1,439.6 386.4,441.5 386.2,442.8C386.1,444.0 383.1,448.6 382.5,451.5C381.9,454.4 380.1,467.8 380.0,471.5C379.9,475.2 381.6,485.9 382.0,489.0C382.4,492.1 382.4,500.9 383.8,502.8C385.1,504.6 392.1,506.6 395.0,507.8C397.9,508.9 410.5,512.4 412.5,514.0C414.5,515.6 414.9,522.0 415.0,524.0C415.1,526.0 414.0,531.8 413.8,534.0C413.5,536.2 412.2,544.6 412.5,546.5C412.8,548.4 414.8,552.0 416.2,552.8C417.8,553.5 425.6,553.8 427.5,554.5C429.4,555.2 433.8,558.5 435.0,560.2C436.2,562.0 439.2,569.4 440.0,571.5C440.8,573.6 442.4,579.2 442.5,581.5C442.6,583.8 440.5,592.0 441.2,594.0C442.0,596.0 448.6,599.2 450.0,601.5C451.4,603.8 453.8,613.6 455.0,616.5C456.2,619.4 459.0,629.0 462.5,630.2C466.0,631.5 487.1,628.2 490.0,628.5C492.9,628.8 491.8,631.0 491.2,632.8C490.8,634.5 486.2,643.4 485.0,646.5C483.8,649.6 479.1,661.6 478.8,664.0C478.4,666.4 480.1,669.5 481.2,670.2C482.4,671.0 488.1,672.5 490.0,672.0C491.9,671.5 497.2,666.1 500.0,665.2C502.8,664.4 515.0,664.1 517.5,663.2C520.0,662.4 523.2,657.4 525.0,657.0C526.8,656.6 533.4,658.0 535.0,659.0C536.6,660.0 539.2,665.1 541.2,666.5C543.2,667.9 552.1,671.2 555.0,672.8C557.9,674.2 567.5,680.5 570.0,681.5C572.5,682.5 578.5,684.5 580.0,682.8C581.5,681.0 584.2,667.9 585.0,664.0C585.8,660.1 586.9,647.8 587.5,644.0C588.1,640.2 591.0,629.2 591.2,626.5C591.5,623.8 590.8,618.2 590.0,616.5C589.2,614.8 584.5,611.2 583.8,609.0C583.0,606.8 583.0,596.0 582.5,594.0C582.0,592.0 578.8,590.1 578.8,589.0C578.8,587.9 580.6,583.8 582.5,582.8C584.4,581.8 595.1,579.6 598.0,579.0C600.9,578.4 610.1,578.0 611.8,576.5C613.4,575.0 613.4,566.8 614.2,564.0C615.1,561.2 618.9,552.0 620.5,549.0C622.1,546.0 629.0,537.0 630.5,534.0C632.0,531.0 635.0,522.0 635.5,519.0C636.0,516.0 636.0,512.7 636.0,504.0C636.0,495.3 636.0,439.2 636.0,432.0"/>
<path d="M462.5,630.2C462.4,631.6 461.6,641.6 461.2,644.0C460.9,646.4 459.1,651.8 458.8,654.0C458.4,656.2 458.0,664.9 457.5,666.5C457.0,668.1 457.8,670.0 453.8,670.2C449.8,670.5 426.1,669.2 417.5,669.0C408.9,668.8 373.8,667.6 367.5,667.8C361.2,667.9 358.8,670.0 355.0,670.2C351.2,670.5 334.3,670.3 330.0,670.2C325.7,670.2 314.6,669.4 312.0,669.5C309.4,669.6 305.8,671.5 304.5,671.5C303.2,671.5 300.4,670.1 299.5,669.0C298.6,667.9 297.0,661.9 295.8,660.2C294.5,658.6 289.1,653.6 287.0,652.8C284.9,651.9 277.2,652.0 274.5,651.5C271.8,651.0 262.5,648.5 259.5,647.8C256.5,647.0 246.8,644.9 244.5,644.0C242.2,643.1 238.2,639.2 237.0,639.0C235.8,638.8 232.0,640.9 232.0,641.5C232.0,642.1 235.6,644.5 237.0,645.2C238.4,646.0 244.9,647.8 246.0,649.0C247.1,650.2 248.0,656.3 248.0,657.8C248.0,659.2 248.1,662.5 245.8,663.2C243.4,664.0 227.3,665.2 224.5,665.2C221.7,665.3 218.9,665.4 218.0,664.0C217.1,662.6 215.6,654.2 215.0,651.5C214.4,648.8 212.9,638.6 212.0,636.5C211.1,634.4 207.2,631.2 205.8,630.2C204.3,629.3 199.4,627.6 198.0,627.2C196.6,626.9 193.3,626.2 192.0,627.0C190.7,627.8 186.5,633.3 184.5,635.2C182.5,637.2 174.2,644.2 172.0,646.5C169.8,648.8 163.6,656.5 162.0,657.8C160.4,659.0 156.6,656.9 156.5,658.5C156.4,660.1 159.7,670.2 160.8,674.0C161.8,677.8 166.0,693.0 167.0,696.0C168.0,699.0 170.2,702.0 170.8,703.5C171.2,705.0 171.1,710.0 172.0,711.0C172.9,712.0 178.4,712.4 179.5,713.5C180.6,714.6 183.2,720.2 183.2,722.2C183.2,724.2 180.9,731.2 179.5,733.5C178.1,735.8 171.5,743.1 169.5,744.8C167.5,746.4 162.0,749.2 159.5,749.8C157.0,750.2 146.9,749.5 144.5,749.8C142.1,750.0 136.4,750.6 135.8,752.2C135.1,753.9 138.4,763.1 138.2,766.0C138.1,768.9 135.2,778.0 134.5,781.0C133.8,784.0 130.9,793.5 130.8,796.0C130.6,798.5 133.1,804.1 133.2,806.0C133.4,807.9 131.6,813.1 132.0,814.8C132.4,816.4 135.8,820.8 137.0,822.2C138.2,823.8 143.5,827.9 144.5,829.8C145.5,831.6 146.1,838.4 147.0,841.0C147.9,843.6 152.0,853.6 153.2,856.0C154.5,858.4 158.8,863.1 159.5,864.8C160.2,866.4 159.9,870.6 159.8,872.0C159.7,873.4 158.7,877.3 158.3,879.0C157.9,880.7 156.0,887.3 155.7,889.4C155.3,891.5 154.9,897.7 154.8,899.9C154.8,902.1 154.9,908.9 155.2,911.0C155.5,913.1 157.1,918.8 157.5,920.7C157.9,922.6 158.9,928.2 159.0,930.0C159.1,931.8 158.6,937.0 158.3,938.7C158.0,940.4 155.7,945.1 155.6,947.0C155.5,948.9 157.0,955.8 157.6,957.9C158.2,960.0 160.2,967.1 161.3,968.4C162.4,969.7 167.5,970.4 168.8,971.3C170.2,972.2 173.2,975.6 174.8,977.3C176.4,978.9 183.7,986.2 185.2,987.8C186.7,989.4 188.6,992.4 189.7,993.0C190.8,993.6 194.5,993.5 195.7,993.7C196.9,993.9 200.4,994.3 201.6,995.2C202.8,996.1 206.3,1001.1 207.6,1002.7C208.9,1004.3 213.5,1010.1 215.0,1011.6C216.5,1013.1 221.0,1016.3 222.5,1017.6C224.0,1018.9 229.4,1023.1 230.0,1024.3C230.6,1025.5 229.4,1028.7 228.5,1029.6C227.6,1030.5 222.5,1032.4 221.0,1033.3C219.5,1034.2 214.6,1037.4 213.6,1038.5C212.6,1039.6 211.7,1043.3 211.3,1044.5C210.9,1045.7 210.6,1049.6 209.9,1050.4C209.2,1051.2 206.0,1051.7 204.6,1052.2C203.2,1052.7 196.6,1054.7 195.7,1055.0"/>
<path d="M202.3,170.5C203.1,170.7 208.3,171.9 210.0,172.3C211.7,172.8 217.1,174.4 219.0,175.0C220.9,175.6 228.0,177.9 229.0,178.2" stroke-width="2.6"/>
<path d="M235.5,178.4C236.5,178.5 244.5,179.2 245.5,179.3" stroke-width="2.6"/>
</g>
<g fill="none" stroke="#000" stroke-width="1.5"><ellipse cx="267.5" cy="194.5" rx="3.5" ry="2.0" transform="rotate(15 267.5 194.5)"/><ellipse cx="335.5" cy="302.5" rx="3.0" ry="1.8" transform="rotate(10 335.5 302.5)"/><ellipse cx="389.0" cy="329.0" rx="3.2" ry="4.0" transform="rotate(-20 389.0 329.0)"/><ellipse cx="402.5" cy="331.0" rx="4.0" ry="2.5" transform="rotate(10 402.5 331.0)"/><ellipse cx="523.0" cy="314.0" rx="3.0" ry="3.0" transform="rotate(0 523.0 314.0)"/><ellipse cx="239.0" cy="314.0" rx="1.8" ry="3.0" transform="rotate(0 239.0 314.0)"/><ellipse cx="303.0" cy="296.0" rx="2.5" ry="2.0" transform="rotate(0 303.0 296.0)"/><ellipse cx="294.5" cy="289.5" rx="2.0" ry="4.0" transform="rotate(-35 294.5 289.5)"/><ellipse cx="326.5" cy="227.3" rx="9.8" ry="1.4" transform="rotate(-22 326.5 227.3)"/></g>
<g fill="#000"><circle cx="293.4" cy="143.6" r="1.8"/><circle cx="272.9" cy="150.0" r="1.8"/><circle cx="525.5" cy="338.0" r="1.6"/><circle cx="468.0" cy="355.0" r="2.2"/><circle cx="427.0" cy="381.0" r="1.7"/><circle cx="427.5" cy="386.5" r="1.5"/><circle cx="437.5" cy="383.0" r="1.6"/><circle cx="309.7" cy="225.4" r="1.7"/><circle cx="312.8" cy="227.0" r="1.5"/><circle cx="306.9" cy="232.2" r="1.5"/><circle cx="306.5" cy="233.2" r="1.3"/></g>
</g>
<rect x="69.8" y="877.8" width="297.2" height="171.9" rx="2.5" fill="#fff" fill-opacity="0.78" stroke="#cccccc" stroke-width="3"/>
<text x="217.6" y="905.8" font-size="20.8" text-anchor="middle" fill="#000">LEGENDA</text>
<rect x="82" y="917.2" width="30.5" height="11.6" fill="#bababa"/>
<text x="122.3" y="928.0" font-size="13.9" fill="#000">Berawan / Tidak Hujan</text>
<rect x="82" y="938.1" width="30.5" height="11.6" fill="#00ff00"/>
<text x="122.3" y="948.9" font-size="13.9" fill="#000">Hujan Ringan : 0.1 - 5 mm/jam</text>
<rect x="82" y="959.0" width="30.5" height="11.6" fill="#ffff00"/>
<text x="122.3" y="969.8" font-size="13.9" fill="#000">Hujan Sedang : 5 - 10 mm/jam</text>
<rect x="82" y="979.9" width="30.5" height="11.6" fill="#ff9900"/>
<text x="122.3" y="990.7" font-size="13.9" fill="#000">Hujan Lebat : 10 - 20 mm/jam</text>
<rect x="82" y="1000.8" width="30.5" height="11.6" fill="#ff0000"/>
<text x="122.3" y="1011.6" font-size="13.9" fill="#000">Hujan Sangat Lebat : 20 - 50 mm/jam</text>
<rect x="82" y="1021.7" width="30.5" height="11.6" fill="#e818b8"/>
<text x="122.3" y="1032.5" font-size="13.9" fill="#000">Hujan Ekstrem : &gt;50 mm/jam</text>
<text x="933.3" y="1053" font-size="10.5" text-anchor="end" fill="#000">©Sub Bidang Prediksi Cuaca BMKG, 2026</text>
<rect x="62.5" y="132.4" width="871.0" height="924.1" fill="none" stroke="#000" stroke-width="2.9"/>
<text x="26" y="357" font-size="16.67" fill="#000">6°S</text>
<text x="638.9" y="1079.3" font-size="16.67" fill="#000">107°E</text>
<text x="61.8" y="1100.8" font-size="17.5" fill="#000">Model: ACCESS 12 KM</text>
<text x="933.8" y="1100.7" font-size="17.5" text-anchor="end" fill="#000">Sumber: CIPS BMKG</text>
<text x="150" y="44.6" font-size="27.78" font-weight="bold" fill="#000">Prediksi Curah Hujan Per 3 Jam</text>
<text x="150.5" y="88.85" font-size="20.83" font-weight="bold" fill="#000">Wilayah Jabodetabek</text>
<text x="932.6" y="44.9" font-size="17.36" text-anchor="end" font-weight="bold" fill="#000" xml:space="preserve">Berlaku:  07 Maret 2026 03 UTC</text>
<text x="933.3" y="88.9" font-size="17.36" text-anchor="end" font-weight="bold" font-style="italic" fill="#000" xml:space="preserve">Data Inisial:  06 Maret 2026 00 UTC</text>
<path d="M980,1H1054V207L1016.8,158.5L980,207Z" fill="#001f47"/>
<text transform="translate(1027.4,138.3) rotate(-90)" font-size="31" font-weight="bold" fill="#fff">ACCESS</text>
<rect x="970.4" y="224.40" width="19.1" height="35.80" fill="#e818b0"/>
<rect x="970.4" y="259.90" width="19.1" height="64.28" fill="#ee241c"/>
<rect x="970.4" y="323.88" width="19.1" height="64.28" fill="#ec681e"/>
<rect x="970.4" y="387.86" width="19.1" height="64.28" fill="#ee8e1c"/>
<rect x="970.4" y="451.84" width="19.1" height="64.28" fill="#eba81e"/>
<rect x="970.4" y="515.82" width="19.1" height="64.28" fill="#f0d418"/>
<rect x="970.4" y="579.80" width="19.1" height="64.28" fill="#f2f222"/>
<rect x="970.4" y="643.78" width="19.1" height="64.28" fill="#a8ee20"/>
<rect x="970.4" y="707.76" width="19.1" height="64.28" fill="#66f522"/>
<rect x="970.4" y="771.74" width="19.1" height="64.28" fill="#88f088"/>
<rect x="970.4" y="835.72" width="19.1" height="64.28" fill="#bdf0bd"/>
<rect x="970.4" y="899.70" width="19.1" height="64.80" fill="#e8e8e6"/>
<rect x="970.4" y="224.4" width="19.1" height="739.8" fill="none" stroke="#000" stroke-width="2.9"/>
<line x1="989.5" x2="1001.5" y1="260.45" y2="260.45" stroke="#000" stroke-width="3"/>
<text x="1013.9" y="266.8" font-size="16.67" fill="#000">50.0</text>
<line x1="989.5" x2="1001.5" y1="324.43" y2="324.43" stroke="#000" stroke-width="3"/>
<text x="1013.9" y="330.8" font-size="16.67" fill="#000">20.0</text>
<line x1="989.5" x2="1001.5" y1="388.41" y2="388.41" stroke="#000" stroke-width="3"/>
<text x="1013.9" y="394.8" font-size="16.67" fill="#000">17.0</text>
<line x1="989.5" x2="1001.5" y1="452.39" y2="452.39" stroke="#000" stroke-width="3"/>
<text x="1013.9" y="458.8" font-size="16.67" fill="#000">14.0</text>
<line x1="989.5" x2="1001.5" y1="516.37" y2="516.37" stroke="#000" stroke-width="3"/>
<text x="1013.9" y="522.8" font-size="16.67" fill="#000">10.0</text>
<line x1="989.5" x2="1001.5" y1="580.35" y2="580.35" stroke="#000" stroke-width="3"/>
<text x="1013.9" y="586.7" font-size="16.67" fill="#000">7.0</text>
<line x1="989.5" x2="1001.5" y1="644.33" y2="644.33" stroke="#000" stroke-width="3"/>
<text x="1013.9" y="650.7" font-size="16.67" fill="#000">5.0</text>
<line x1="989.5" x2="1001.5" y1="708.31" y2="708.31" stroke="#000" stroke-width="3"/>
<text x="1013.9" y="714.7" font-size="16.67" fill="#000">3.0</text>
<line x1="989.5" x2="1001.5" y1="772.29" y2="772.29" stroke="#000" stroke-width="3"/>
<text x="1013.9" y="778.7" font-size="16.67" fill="#000">1.0</text>
<line x1="989.5" x2="1001.5" y1="836.27" y2="836.27" stroke="#000" stroke-width="3"/>
<text x="1013.9" y="842.7" font-size="16.67" fill="#000">0.5</text>
<line x1="989.5" x2="1001.5" y1="900.25" y2="900.25" stroke="#000" stroke-width="3"/>
<text x="1013.9" y="906.6" font-size="16.67" fill="#000">0.1</text>
<line x1="989.5" x2="1001.5" y1="964.23" y2="964.23" stroke="#000" stroke-width="3"/>
<text x="1013.9" y="970.6" font-size="16.67" fill="#000">0.0</text>

<g>
<clipPath id="lc"><circle cx="85.05" cy="53.15" r="30.1"/></clipPath>
<g clip-path="url(#lc)">
<rect x="54" y="22" width="62" height="5.9" fill="#0030c8"/>
<rect x="54" y="31.85" width="62" height="4.1" fill="#0030c8"/>
<ellipse cx="79.1" cy="37.6" rx="7.4" ry="4" fill="#fff"/>
<rect x="54" y="38.9" width="15" height="2.95" fill="#0030c8"/>
<ellipse cx="62.3" cy="42.6" rx="4.9" ry="2.7" fill="#fff"/>
<rect x="89.2" y="38.9" width="24" height="2.95" fill="#0030c8"/>
<ellipse cx="95.4" cy="43" rx="5.2" ry="3" fill="#fff"/>
<rect x="101.3" y="44.1" width="14" height="1.7" fill="#0030c8"/>
<ellipse cx="105.3" cy="46.5" rx="3.6" ry="1.9" fill="#fff"/>
<rect x="110" y="47.4" width="6" height="1.3" fill="#0030c8"/>
<rect x="54" y="52.7" width="62" height="1.3" fill="#686868"/>
<path d="M54,57.65 L71.06,57.65 L72.45,59.15 L54,59.15Z" fill="#009600"/>
<path d="M54,60.10 L73.34,60.10 L75.75,62.70 L54,62.70Z" fill="#009600"/>
<path d="M54,64.20 L77.15,64.20 L80.30,67.60 L54,67.60Z" fill="#009600"/>
<path d="M54,70.25 L82.77,70.25 L86.99,74.80 L54,74.80Z" fill="#009600"/>
<path d="M54,78.40 L90.34,78.40 L95.54,84.00 L54,84.00Z" fill="#009600"/>
<path d="M75.01,61.90 L116,61.90 L116,63.20 L76.22,63.20Z" fill="#009600"/>
<path d="M77.80,64.90 L116,64.90 L116,66.70 L79.47,66.70Z" fill="#009600"/>
<path d="M80.95,68.30 L116,68.30 L116,71.70 L84.11,71.70Z" fill="#009600"/>
<path d="M86.71,74.50 L116,74.50 L116,78.70 L90.62,78.70Z" fill="#009600"/>
<path d="M76.22,63.2 L116,63.2 L116,64.9 L77.80,64.9Z" fill="#a6dca6"/>
</g>
<text x="85.1" y="97.5" font-size="15.28" text-anchor="middle" font-weight="bold" fill="#000">BMKG</text>
</g>
</svg>
</body></html>
